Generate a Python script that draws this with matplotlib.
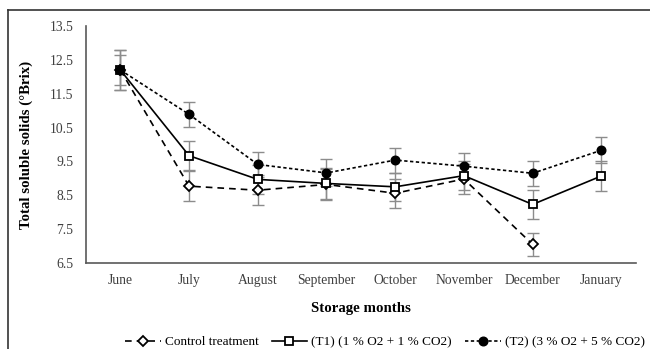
import matplotlib
matplotlib.use("Agg")
import matplotlib.pyplot as plt
from matplotlib.lines import Line2D

months = ["June", "July", "August", "September", "October", "November", "December", "January"]
control = [12.2, 8.77, 8.65, 8.82, 8.56, 8.98, 7.05, None]
control_err = [0.45, 0.45, 0.44, 0.45, 0.43, 0.45, 0.35, None]
t1 = [12.2, 9.67, 8.97, 8.85, 8.75, 9.08, 8.23, 9.07]
t1_err = [0.6, 0.43, 0.43, 0.45, 0.42, 0.42, 0.43, 0.43]
t2 = [12.2, 10.89, 9.41, 9.16, 9.54, 9.36, 9.15, 9.83]
t2_err = [0.6, 0.38, 0.37, 0.40, 0.37, 0.38, 0.37, 0.38]
yticks = [6.5, 7.5, 8.5, 9.5, 10.5, 11.5, 12.5, 13.5]

plt.rcParams['font.family'] = ['Liberation Serif', 'DejaVu Serif']

fig = plt.figure(figsize=(6.5, 3.49), dpi=100)
ax = fig.add_axes([0.1323, 0.2464, 0.8457, 0.6791])

x = list(range(len(months)))
ecol = '#8c8c8c'

cx = [i for i, v in enumerate(control) if v is not None]
cv = [v for v in control if v is not None]
ce = [e for e in control_err if e is not None]

ax.errorbar(cx, cv, yerr=ce, fmt='none', ecolor=ecol, elinewidth=1, capsize=4, capthick=1, zorder=2)
ax.errorbar(x, t1, yerr=t1_err, fmt='none', ecolor=ecol, elinewidth=1, capsize=4, capthick=1, zorder=2)
ax.errorbar(x, t2, yerr=t2_err, fmt='none', ecolor=ecol, elinewidth=1, capsize=4, capthick=1, zorder=2)

l1, = ax.plot(cx, cv, color='black', lw=1.2, ls=(0, (4, 3)), marker='D', ms=5,
              mfc='white', mec='black', mew=1.3, zorder=3, label='Control treatment')
l2, = ax.plot(x, t1, color='black', lw=1.2, ls='-', marker='s', ms=5.5,
              mfc='white', mec='black', mew=1.3, zorder=4, label='(T1) (1 % O2 + 1 % CO2)')
l3, = ax.plot(x, t2, color='black', lw=1.2, ls=(0, (2, 1.5)), marker='o', ms=6.2,
              mfc='black', mec='black', zorder=5, label='(T2) (3 % O2 + 5 % CO2)')

ax.set_xlim(-0.5, 7.5)
ax.set_ylim(6.5, 13.5)
ax.set_yticks(yticks)
ax.set_yticklabels([f"{v:.1f}" for v in yticks])
ax.set_xticks(x)
ax.set_xticklabels(months)
ax.tick_params(axis='both', length=0, labelsize=9.8, colors='#404040', pad=8)
ax.tick_params(axis='y', pad=9)
for s in ['top', 'right']:
    ax.spines[s].set_visible(False)
for s in ['left', 'bottom']:
    ax.spines[s].set_color('#595959')
    ax.spines[s].set_linewidth(1.2)

ax.set_xlabel('Storage months', fontsize=10.7, fontweight='bold', labelpad=11)
ax.set_ylabel('Total soluble solids (°Brix)', fontsize=10.7, fontweight='bold', labelpad=12)

fig.legend(handles=[l1, l2, l3], loc='center', bbox_to_anchor=(0.592, 0.02), ncol=3,
           frameon=False, fontsize=9.5, handlelength=2.7, columnspacing=1.0, handletextpad=0.3,
           borderaxespad=0, borderpad=0)

fig.add_artist(Line2D([8/650, 1.0], [1 - 10/349, 1 - 10/349], transform=fig.transFigure, color='#333333', lw=1.2))
fig.add_artist(Line2D([8/650, 8/650], [0, 1 - 10/349], transform=fig.transFigure, color='#333333', lw=1.2))

fig.savefig('out.png', dpi=100)
